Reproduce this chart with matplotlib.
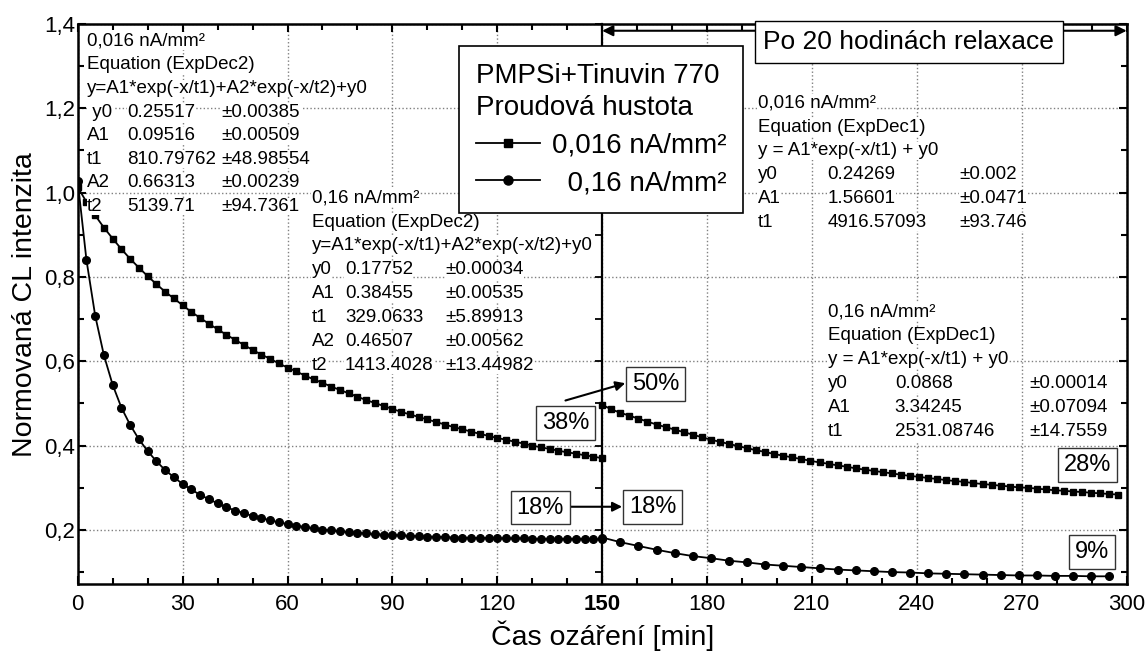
import numpy as np
import matplotlib.pyplot as plt
from matplotlib.lines import Line2D
from matplotlib.ticker import MultipleLocator, FixedLocator, FixedFormatter

plt.rcParams['font.family'] = ['Liberation Sans', 'DejaVu Sans']

# ---- data (normalised CL intensity) ----
# before relaxation, 0 .. 150 min
t_left = np.arange(61) * 2.5
cl_016_left = [1.013, 0.978, 0.946, 0.917, 0.891, 0.866, 0.843, 0.822, 0.802, 0.783,
               0.765, 0.749, 0.733, 0.717, 0.703, 0.689, 0.676, 0.663, 0.651, 0.639,
               0.627, 0.616, 0.606, 0.595, 0.585, 0.576, 0.566, 0.557, 0.549, 0.540,
               0.532, 0.524, 0.516, 0.508, 0.501, 0.494, 0.487, 0.480, 0.474, 0.468,
               0.462, 0.456, 0.450, 0.444, 0.439, 0.433, 0.428, 0.423, 0.418, 0.414,
               0.409, 0.405, 0.400, 0.396, 0.392, 0.388, 0.384, 0.381, 0.377, 0.374,
               0.370]
cl_16_left = [1.027, 0.840, 0.708, 0.614, 0.544, 0.490, 0.449, 0.415, 0.387, 0.363,
              0.342, 0.325, 0.309, 0.296, 0.283, 0.273, 0.263, 0.254, 0.246, 0.240,
              0.233, 0.228, 0.223, 0.218, 0.214, 0.210, 0.207, 0.204, 0.201, 0.199,
              0.197, 0.195, 0.193, 0.192, 0.190, 0.189, 0.188, 0.187, 0.186, 0.185,
              0.184, 0.184, 0.183, 0.182, 0.182, 0.181, 0.181, 0.181, 0.180, 0.180,
              0.180, 0.180, 0.179, 0.179, 0.179, 0.179, 0.179, 0.179, 0.179, 0.178,
              0.178]

# after 20 h relaxation, 150 .. 300 min
t_right_sq = 150 + np.arange(58) * 2.59
cl_016_right = [0.497, 0.486, 0.478, 0.471, 0.464, 0.457, 0.450, 0.444, 0.438, 0.432,
                0.426, 0.420, 0.414, 0.409, 0.404, 0.399, 0.394, 0.389, 0.385, 0.380,
                0.376, 0.372, 0.368, 0.364, 0.360, 0.357, 0.353, 0.350, 0.346, 0.343,
                0.340, 0.337, 0.334, 0.331, 0.328, 0.326, 0.323, 0.321, 0.318, 0.316,
                0.314, 0.311, 0.309, 0.307, 0.305, 0.303, 0.301, 0.300, 0.298, 0.296,
                0.294, 0.293, 0.291, 0.290, 0.288, 0.287, 0.285, 0.284]
t_right_ci = 150 + np.arange(29) * 5.18
cl_16_right = [0.182, 0.171, 0.162, 0.153, 0.145, 0.138, 0.133, 0.127, 0.123, 0.118,
               0.115, 0.112, 0.109, 0.106, 0.104, 0.102, 0.100, 0.099, 0.097, 0.096,
               0.095, 0.094, 0.093, 0.092, 0.092, 0.091, 0.091, 0.090, 0.090]

x_ticks = [0, 30, 60, 90, 120, 150, 180, 210, 240, 270, 300]
x_tick_labels = [str(v) for v in x_ticks]
y_ticks = [0.2, 0.4, 0.6, 0.8, 1.0, 1.2, 1.4]
y_tick_labels = ['0,2', '0,4', '0,6', '0,8', '1,0', '1,2', '1,4']

# fit results
head_016_exp2 = ['0,016 nA/mm²', 'Equation (ExpDec2)', 'y=A1*exp(-x/t1)+A2*exp(-x/t2)+y0']
rows_016_exp2 = [(' y0', '0.25517', '±0.00385'), ('A1', '0.09516', '±0.00509'),
                 ('t1', '810.79762', '±48.98554'), ('A2', '0.66313', '±0.00239'),
                 ('t2', '5139.71', '±94.7361')]
head_16_exp2 = ['0,16 nA/mm²', 'Equation (ExpDec2)', 'y=A1*exp(-x/t1)+A2*exp(-x/t2)+y0']
rows_16_exp2 = [('y0', '0.17752', '±0.00034'), ('A1', '0.38455', '±0.00535'),
                ('t1', '329.0633', '±5.89913'), ('A2', '0.46507', '±0.00562'),
                ('t2', '1413.4028', '±13.44982')]
head_016_exp1 = ['0,016 nA/mm²', 'Equation (ExpDec1)', 'y = A1*exp(-x/t1) + y0']
rows_016_exp1 = [('y0', '0.24269', '±0.002'), ('A1', '1.56601', '±0.0471'),
                 ('t1', '4916.57093', '±93.746')]
head_16_exp1 = ['0,16 nA/mm²', 'Equation (ExpDec1)', 'y = A1*exp(-x/t1) + y0']
rows_16_exp1 = [('y0', '0.0868', '±0.00014'), ('A1', '3.34245', '±0.07094'),
                ('t1', '2531.08746', '±14.7559')]


def fit_box(ax, head, rows, cols, y0, dy):
    wb = dict(facecolor='white', edgecolor='none', pad=0.3)
    y = y0
    for line in head:
        ax.text(cols[0], y, line, fontsize=13.5, va='center', ha='left', bbox=wb, zorder=4)
        y -= dy
    for row in rows:
        for xc, s in zip(cols, row):
            ax.text(xc, y, s, fontsize=13.5, va='center', ha='left', bbox=wb, zorder=4)
        y -= dy


fig = plt.figure(figsize=(11.48, 6.52), dpi=100)
ax = fig.add_axes([0.0677, 0.1038, 0.9137, 0.8594])

ax.plot(t_left, cl_016_left, '-s', color='black', lw=1.3, ms=5, zorder=3)
ax.plot(t_left, cl_16_left, '-o', color='black', lw=1.3, ms=5.5, zorder=3)
ax.plot(t_right_sq, cl_016_right, '-s', color='black', lw=1.3, ms=5, zorder=3)
ax.plot(t_right_ci, cl_16_right, '-o', color='black', lw=1.3, ms=5.5, zorder=3)

ax.set_xlim(0, 300)
ax.set_ylim(0.071, 1.4)
ax.xaxis.set_major_locator(FixedLocator(x_ticks))
ax.xaxis.set_major_formatter(FixedFormatter(x_tick_labels))
ax.xaxis.set_minor_locator(MultipleLocator(10))
ax.yaxis.set_major_locator(FixedLocator(y_ticks))
ax.yaxis.set_major_formatter(FixedFormatter(y_tick_labels))
ax.yaxis.set_minor_locator(MultipleLocator(0.1))
ax.tick_params(which='both', direction='in', top=True, right=True, width=1.5)
ax.tick_params(which='major', length=6)
ax.tick_params(which='minor', length=4)
ax.tick_params(axis='x', labelsize=16, pad=7)
ax.tick_params(axis='y', labelsize=16, pad=2)
for sp in ax.spines.values():
    sp.set_linewidth(1.8)
ax.grid(True, which='major', ls=':', color='gray', lw=1)
ax.xaxis.get_ticklabels()[5].set_fontweight('bold')

ax.set_xlabel('Čas ozáření [min]', fontsize=20.5, labelpad=4)
ax.set_ylabel('Normovaná CL intenzita', fontsize=20.5, labelpad=4)

# fit parameter tables
fit_box(ax, head_016_exp2, rows_016_exp2, (2.7, 14.1, 41.2), 1.359, 0.056)
fit_box(ax, head_16_exp2, rows_16_exp2, (66.9, 76.4, 105.2), 0.987, 0.0567)
fit_box(ax, head_016_exp1, rows_016_exp1, (194.5, 214.5, 252.1), 1.212, 0.0566)
fit_box(ax, head_16_exp1, rows_16_exp1, (214.5, 233.7, 272.1), 0.718, 0.057)

# relaxation arrow + label
ax.annotate('', xy=(150, 1.384), xytext=(300, 1.384),
            arrowprops=dict(arrowstyle='<|-|>', color='black', lw=1.5,
                            mutation_scale=16, shrinkA=0, shrinkB=0), zorder=4)
ax.text(237.7, 1.357, 'Po 20 hodinách relaxace', fontsize=19, ha='center', va='center',
        bbox=dict(boxstyle='square,pad=0.33', facecolor='white', edgecolor='black', lw=1),
        zorder=5)

# percentage labels
pbox = dict(boxstyle='square,pad=0.25', facecolor='white', edgecolor='#333333', lw=1)
for s, xx, yy in [('50%', 165.2, 0.546), ('38%', 139.5, 0.454), ('18%', 132.3, 0.253),
                  ('18%', 164.4, 0.255), ('28%', 288.7, 0.354), ('9%', 290.2, 0.147)]:
    ax.text(xx, yy, s, fontsize=17, ha='center', va='center', bbox=pbox, zorder=5)
arr = dict(arrowstyle='-|>', color='black', lw=1.5, mutation_scale=14, shrinkA=0, shrinkB=0)
ax.annotate('', xy=(156.6, 0.548), xytext=(139.5, 0.507), arrowprops=arr)
ax.annotate('', xy=(155.7, 0.255), xytext=(140.9, 0.255), arrowprops=arr)

# divider between the two measurement runs (left axis of the second layer)
pos = ax.get_position()
ax_r = fig.add_axes([pos.x0 + pos.width / 2, pos.y0, pos.width / 2, pos.height])
ax_r.set_xlim(150, 300)
ax_r.set_ylim(0.071, 1.4)
ax_r.patch.set_visible(False)
for k in ['top', 'right', 'bottom']:
    ax_r.spines[k].set_visible(False)
ax_r.spines['left'].set_linewidth(1.6)
ax_r.set_xticks([])
ax_r.yaxis.set_major_locator(MultipleLocator(0.2))
ax_r.yaxis.set_minor_locator(MultipleLocator(0.1))
ax_r.tick_params(axis='y', which='both', direction='out', length=5, width=1.3, labelleft=False)

handles = [Line2D([], [], color='black', marker='s', lw=1.3, ms=6),
           Line2D([], [], color='black', marker='o', lw=1.3, ms=6.5)]
leg = ax_r.legend(handles, ['0,016 nA/mm²', '  0,16 nA/mm²'],
                  title='PMPSi+Tinuvin 770\nProudová hustota',
                  loc='upper left', bbox_to_anchor=(0.3998, 0.9294),
                  bbox_transform=fig.transFigure, fontsize=20, title_fontsize=20,
                  alignment='left', fancybox=False, framealpha=1, edgecolor='black',
                  borderpad=0.6, labelspacing=0.42, handlelength=2.3, handletextpad=0.45,
                  borderaxespad=0)
leg.get_title().set_linespacing(1.3)
leg.get_frame().set_linewidth(1.2)

fig.savefig('out.png', dpi=100)
